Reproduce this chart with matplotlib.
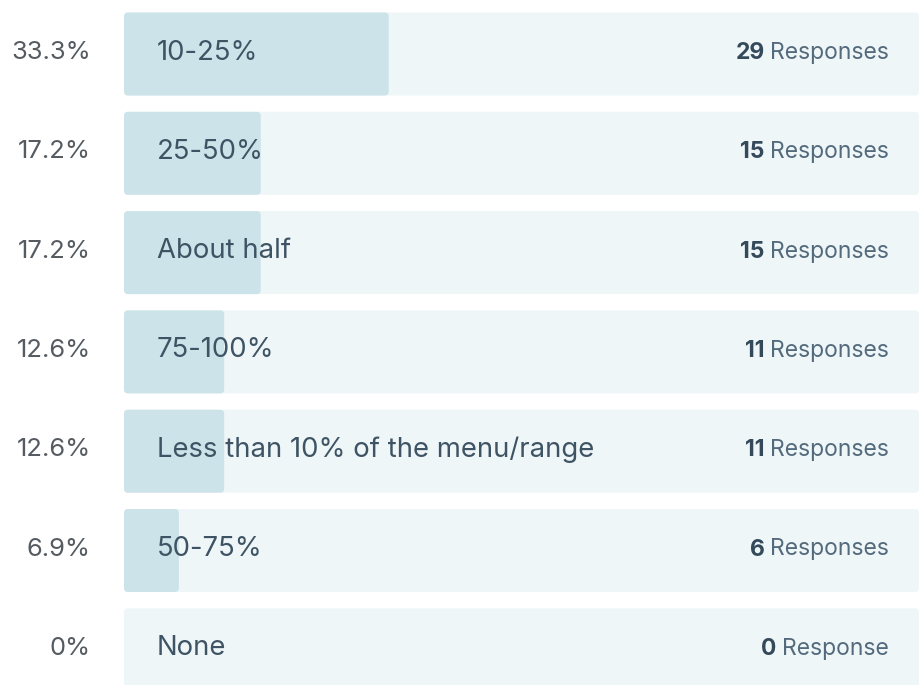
import matplotlib
matplotlib.use("Agg")
import matplotlib.pyplot as plt
from matplotlib.patches import FancyBboxPatch
from matplotlib import transforms

plt.rcParams['font.family'] = ['Inter', 'DejaVu Sans']

categories = ["10-25%", "25-50%", "About half", "75-100%",
              "Less than 10% of the menu/range", "50-75%", "None"]
percents = [33.3, 17.2, 17.2, 12.6, 12.6, 6.9, 0.0]
pct_labels = ["33.3%", "17.2%", "17.2%", "12.6%", "12.6%", "6.9%", "0%"]
responses = [29, 15, 15, 11, 11, 6, 0]

W, H = 919, 685
TRACK = "#eef6f8"
FILL = "#cce4e9"
LABEL_C = "#3e5464"
PCT_C = "#555b60"
RESP_C = "#536a7c"
NUM_C = "#34495a"

fig = plt.figure(figsize=(W / 100, H / 100), dpi=100)
fig.patch.set_facecolor("white")

# track spans the x range 0..100 from px 124 to the right edge
ax = fig.add_axes([124 / W, 0, 1 - 124 / W, 1])
row_px = 99.3
first_px = 54
ax.set_xlim(0, 100)
ax.set_ylim((H - first_px) / row_px, -first_px / row_px)
ax.axis("off")

bar_h = 83 / row_px
px_per_x = (W - 124) / 100
round_px = 4
r = round_px / px_per_x
aspect = px_per_x / row_px


def rounded_bar(y, width, color):
    if width <= 0:
        return
    p = FancyBboxPatch((0, y - bar_h / 2), width, bar_h,
                       boxstyle=f"round,pad=0,rounding_size={r}",
                       mutation_aspect=aspect, facecolor=color,
                       edgecolor="none")
    ax.add_patch(p)


left_tr = transforms.blended_transform_factory(fig.transFigure, ax.transData)

for i, (cat, pct, lab, n) in enumerate(zip(categories, percents, pct_labels, responses)):
    rounded_bar(i, 100, TRACK)
    rounded_bar(i, pct, FILL)

    ty = i - 1.5 / row_px
    ax.text(91 / W, ty, lab, transform=left_tr, ha="right", va="center",
            fontsize=18.4, color=PCT_C)
    ax.text(33 / px_per_x, ty, cat, ha="left", va="center",
            fontsize=19.8, color=LABEL_C)

    word = "Response" if n == 1 or n == 0 else "Responses"
    t = ax.text(889 / W, i - 1 / row_px, word, transform=left_tr,
                ha="right", va="center", fontsize=16.5, color=RESP_C)
    ax.annotate(str(n), xy=(0, 0.5), xycoords=t, xytext=(-4, 0),
                textcoords="offset points", ha="right", va="center",
                fontsize=16.5, fontweight="bold", color=NUM_C)

fig.savefig("out.png", dpi=100)
